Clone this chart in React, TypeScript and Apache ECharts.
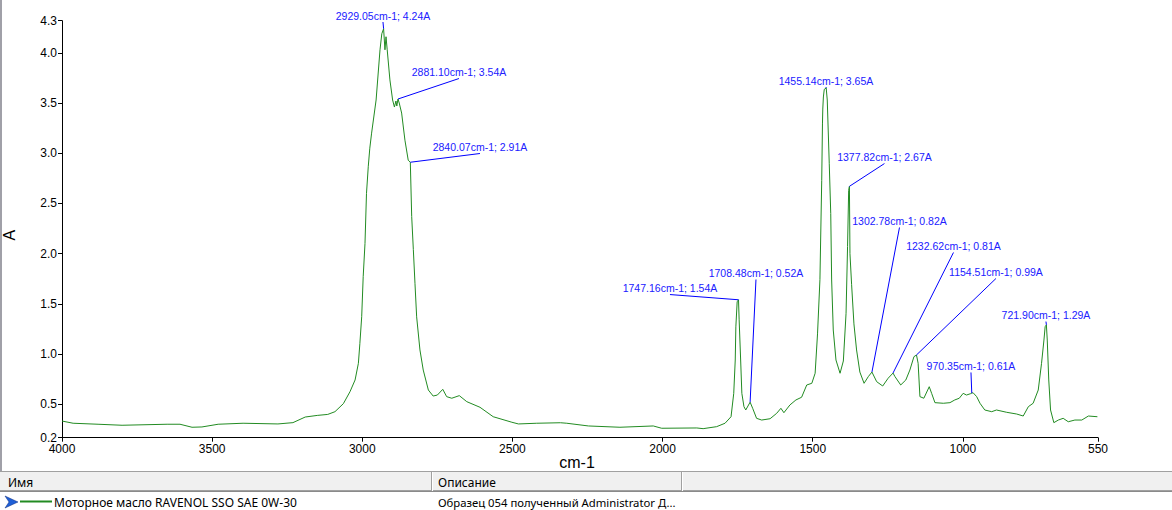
import React, { useEffect, useRef } from "react";
import * as echarts from "echarts";

// Spectrum (wavenumber cm-1 -> absorbance A)
const wavenumbers = [
  4000, 3963, 3880, 3800, 3650, 3607, 3567, 3534, 3480, 3397, 3281, 3231, 3190, 3150, 3115, 3091,
  3063, 3041, 3024, 3013, 3008, 3002, 2997, 2991, 2986, 2980, 2975, 2969, 2954, 2941, 2935,
  2929.05, 2924.5, 2921, 2917, 2908, 2899, 2893, 2888, 2885, 2881.1, 2877, 2869, 2858, 2847,
  2840.07, 2835.5, 2830, 2824.5, 2819, 2808, 2797, 2780, 2764, 2750, 2732, 2719, 2702, 2677,
  2652, 2608, 2564, 2502, 2480, 2419, 2340, 2319, 2247, 2142, 2031, 2003, 1886, 1865, 1820,
  1792, 1772, 1763, 1758, 1756, 1751.6, 1747.16, 1745, 1740, 1736, 1729, 1723, 1708.48, 1700,
  1687, 1670, 1642, 1620, 1606, 1596, 1576, 1556, 1537, 1520, 1503, 1492, 1484, 1476, 1470,
  1467.5, 1466.5, 1464.5, 1461.6, 1455.14, 1451.6, 1445, 1440, 1437, 1431.6, 1422.6, 1409,
  1398, 1389, 1384, 1380.3, 1377.82, 1376, 1370.5, 1362.8, 1354, 1343, 1329, 1315, 1302.78,
  1287, 1267, 1249, 1232.62, 1226, 1207, 1190, 1176.5, 1163, 1154.51, 1149, 1143, 1130, 1112,
  1104, 1093, 1065, 1043, 1027, 1012, 999, 988, 974, 970.35, 966, 954, 943, 927, 904, 888, 854,
  821, 799, 782, 766, 749, 738, 730, 726, 721.9, 719, 714, 708, 697, 682, 666, 649, 627, 604,
  582, 552,
];
const absorbance = [
  0.332, 0.31, 0.3, 0.29, 0.3, 0.3, 0.27, 0.273, 0.3, 0.31, 0.303, 0.316, 0.372, 0.388, 0.398, 0.425,
  0.505, 0.624, 0.741, 0.907, 1.106, 1.371, 1.77, 2.1, 2.6, 2.87, 3.05, 3.2, 3.53, 4.03, 4.19,
  4.24, 4.03, 4.16, 4.03, 3.73, 3.53, 3.46, 3.52, 3.47, 3.54, 3.5, 3.4, 3.13, 2.93,
  2.91, 2.37, 2.04, 1.7, 1.37, 1.04, 0.84, 0.641, 0.581, 0.591, 0.648, 0.575, 0.559, 0.585,
  0.525, 0.469, 0.375, 0.32, 0.303, 0.31, 0.315, 0.31, 0.283, 0.27, 0.283, 0.26, 0.263, 0.256, 0.276,
  0.31, 0.375, 0.608, 0.94, 1.27, 1.52, 1.54, 1.34, 0.94, 0.608, 0.475, 0.442, 0.52, 0.459,
  0.359, 0.342, 0.355, 0.409, 0.459, 0.415, 0.492, 0.542, 0.569, 0.691, 0.708, 0.808, 1.2, 1.74, 2.73,
  3.3, 3.44, 3.56, 3.636, 3.65, 3.53, 2.9, 2.4, 1.737, 1.239, 0.94, 0.808,
  0.93, 1.405, 2.07, 2.63, 2.67, 2.0, 1.69, 1.3, 1.04, 0.82, 0.708, 0.774, 0.82,
  0.724, 0.681, 0.758, 0.81, 0.774, 0.691, 0.741, 0.84, 0.973, 0.99, 0.907, 0.575, 0.559, 0.674,
  0.608, 0.515, 0.509, 0.515, 0.542, 0.559, 0.608, 0.591, 0.605, 0.61, 0.614, 0.575, 0.509, 0.442, 0.425, 0.442, 0.419,
  0.402, 0.382, 0.475, 0.509, 0.641, 0.907, 1.139, 1.272, 1.29, 1.139, 0.741, 0.442, 0.316, 0.342, 0.359, 0.325, 0.342, 0.342,
  0.382, 0.375,
];

// Peak annotations
const peakWavenumbers = [2929.05, 2881.1, 2840.07, 1455.14, 1377.82, 1302.78, 1232.62, 1154.51, 721.9, 970.35, 1747.16, 1708.48];
const peakAbsorbance = [4.24, 3.54, 2.91, 3.65, 2.67, 0.82, 0.81, 0.99, 1.29, 0.61, 1.54, 0.52];
// Where each annotation's label sits (data coordinates)
const labelWavenumbers = [2931.1, 2678.0, 2608.1, 1455.9, 1261.1, 1211.1, 1031.3, 889.8, 723.3, 973.0, 1975.4, 1689.0];
const labelAbsorbance = [4.307, 3.744, 2.997, 3.659, 2.897, 2.26, 2.011, 1.752, 1.323, 0.816, 1.592, 1.742];

// Axes
const xMin = 550;
const xMax = 4000;
const xTickValues = [4000, 3500, 3000, 2500, 2000, 1500, 1000, 550];
const yMin = 0.166;
const yMax = 4.32;
const yTickValues = [0.166, 0.5, 1.0, 1.5, 2.0, 2.5, 3.0, 3.5, 4.0, 4.32];
const yTickLabels = ["0.2", "0.5", "1.0", "1.5", "2.0", "2.5", "3.0", "3.5", "4.0", "4.3"];
const xAxisName = "cm-1";
const yAxisName = "A";

// Table beneath the chart
const columnHeaders = ["Имя", "Описание"];
const seriesName = "Моторное масло RAVENOL SSO SAE 0W-30";
const seriesDescription = "Образец 054 полученный Administrator Д...";

const GREEN = "#228b22";
const BLUE = "#0000ff";
const AXIS_FONT = '"Liberation Sans", Arial, sans-serif';
const UI_FONT = '"Noto Sans", "Liberation Sans", sans-serif';

export default function App() {
  const ref = useRef<HTMLDivElement>(null);

  useEffect(() => {
    if (!ref.current) return;
    const chart = echarts.init(ref.current, undefined, { renderer: "svg" });

    const spectrum = wavenumbers.map((w, i) => [w, absorbance[i]]);
    const labels = peakWavenumbers.map(
      (w, i) => `${w.toFixed(2)}cm-1; ${peakAbsorbance[i].toFixed(2)}A`
    );
    const annotations = peakWavenumbers.map((w, i) => [
      w,
      peakAbsorbance[i],
      labelWavenumbers[i],
      labelAbsorbance[i],
      i,
    ]);

    const yLabelFor = (v: number) => {
      let best = 0;
      for (let i = 1; i < yTickValues.length; i++) {
        if (Math.abs(yTickValues[i] - v) < Math.abs(yTickValues[best] - v)) best = i;
      }
      return yTickLabels[best];
    };

    const option: any = {
      animation: false,
      backgroundColor: "#ffffff",
      grid: {
        left: 62,
        right: 74,
        top: 20.7,
        bottom: 72.3,
        containLabel: false,
        outerBoundsMode: "none",
      },
      xAxis: {
        type: "value",
        inverse: true,
        min: xMin,
        max: xMax,
        name: xAxisName,
        nameLocation: "middle",
        nameGap: 17,
        nameMoveOverlap: false,
        nameTextStyle: { fontSize: 16, color: "#000", fontFamily: AXIS_FONT, padding: [0, 6, 0, 0] },
        axisLine: { show: true, onZero: false, lineStyle: { color: "#000", width: 1 } },
        axisTick: { show: true, length: 4, lineStyle: { color: "#000" }, customValues: xTickValues },
        axisLabel: {
          color: "#000",
          fontSize: 12,
          lineHeight: 11,
          fontFamily: AXIS_FONT,
          margin: 6,
          customValues: xTickValues,
          formatter: (v: number) => String(v),
        },
        splitLine: { show: false },
      },
      yAxis: {
        type: "value",
        min: yMin,
        max: yMax,
        name: yAxisName,
        nameLocation: "middle",
        nameGap: 45,
        nameMoveOverlap: false,
        nameTextStyle: { fontSize: 16, color: "#000", fontFamily: AXIS_FONT, padding: [0, 12, 0, 0] },
        axisLine: { show: true, onZero: false, lineStyle: { color: "#000", width: 1 } },
        axisTick: { show: true, length: 4, lineStyle: { color: "#000" }, customValues: yTickValues },
        axisLabel: {
          color: "#000",
          fontSize: 12,
          lineHeight: 11,
          fontFamily: AXIS_FONT,
          margin: 5,
          customValues: yTickValues,
          formatter: (v: number) => yLabelFor(v),
        },
        splitLine: { show: false },
      },
      series: [
        {
          type: "line",
          name: seriesName,
          data: spectrum,
          showSymbol: false,
          symbol: "none",
          silent: true,
          lineStyle: { color: GREEN, width: 1 },
          z: 2,
        },
        {
          type: "custom",
          silent: true,
          clip: false,
          z: 3,
          encode: { x: 0, y: 1 },
          data: annotations,
          renderItem: (_params: any, api: any) => {
            const p = api.coord([api.value(0), api.value(1)]);
            const l = api.coord([api.value(2), api.value(3)]);
            const idx = api.value(4);
            return {
              type: "group",
              children: [
                {
                  type: "line",
                  shape: { x1: l[0], y1: l[1], x2: p[0], y2: p[1] },
                  style: { stroke: BLUE, lineWidth: 1 },
                },
                {
                  type: "text",
                  x: l[0],
                  y: l[1] - 1,
                  style: {
                    text: labels[idx],
                    fill: "#2020ff",
                    font: `10.5px ${AXIS_FONT}`,
                    align: "center",
                    verticalAlign: "bottom",
                    textAlign: "center",
                    textVerticalAlign: "bottom",
                  },
                },
              ],
            };
          },
        },
      ],
      graphic: [
        // left window border
        { type: "rect", shape: { x: 0, y: 0, width: 2, height: 471 }, style: { fill: "#a0a0a8" }, silent: true },
        // table header
        { type: "rect", shape: { x: 0, y: 472, width: 1172, height: 19 }, style: { fill: "#f0f0f0" }, silent: true },
        { type: "line", shape: { x1: 0, y1: 471.5, x2: 1172, y2: 471.5 }, style: { stroke: "#a0a0a0", lineWidth: 1 }, silent: true },
        { type: "line", shape: { x1: 0, y1: 490.5, x2: 1172, y2: 490.5 }, style: { stroke: "#a0a0a0", lineWidth: 1 }, silent: true },
        { type: "line", shape: { x1: 0, y1: 491.5, x2: 1172, y2: 491.5 }, style: { stroke: "#8a8a8a", lineWidth: 1 }, silent: true },
        { type: "line", shape: { x1: 431.5, y1: 472, x2: 431.5, y2: 491 }, style: { stroke: "#a0a0a0", lineWidth: 1 }, silent: true },
        { type: "line", shape: { x1: 432.5, y1: 472, x2: 432.5, y2: 491 }, style: { stroke: "#ffffff", lineWidth: 1 }, silent: true },
        { type: "line", shape: { x1: 681.5, y1: 472, x2: 681.5, y2: 491 }, style: { stroke: "#a0a0a0", lineWidth: 1 }, silent: true },
        { type: "line", shape: { x1: 682.5, y1: 472, x2: 682.5, y2: 491 }, style: { stroke: "#ffffff", lineWidth: 1 }, silent: true },
        {
          type: "text", x: 8, y: 482, silent: true,
          style: { text: columnHeaders[0], fill: "#000", font: `12px ${UI_FONT}`, verticalAlign: "middle", textVerticalAlign: "middle" },
        },
        {
          type: "text", x: 438, y: 482, silent: true,
          style: { text: columnHeaders[1], fill: "#000", font: `12px ${UI_FONT}`, verticalAlign: "middle", textVerticalAlign: "middle" },
        },
        // legend row
        {
          type: "polygon", silent: true,
          shape: { points: [[5, 496], [18, 502], [5, 508], [9, 502]] },
          style: { fill: "#1f5fd6", stroke: "#0a2a80", lineWidth: 0.5 },
        },
        { type: "line", shape: { x1: 20, y1: 501.5, x2: 52, y2: 501.5 }, style: { stroke: GREEN, lineWidth: 2 }, silent: true },
        {
          type: "text", x: 54, y: 502, silent: true,
          style: { text: seriesName, fill: "#000", font: `12px ${UI_FONT}`, verticalAlign: "middle", textVerticalAlign: "middle" },
        },
        {
          type: "text", x: 438, y: 502, silent: true,
          style: { text: seriesDescription, fill: "#000", font: `11.3px ${UI_FONT}`, verticalAlign: "middle", textVerticalAlign: "middle" },
        },
      ],
    };

    chart.setOption(option);
    return () => chart.dispose();
  }, []);

  return (
    <div
      ref={ref}
      style={{ position: "absolute", left: 0, top: 0, width: 1172, height: 510, background: "#fff" }}
    />
  );
}
